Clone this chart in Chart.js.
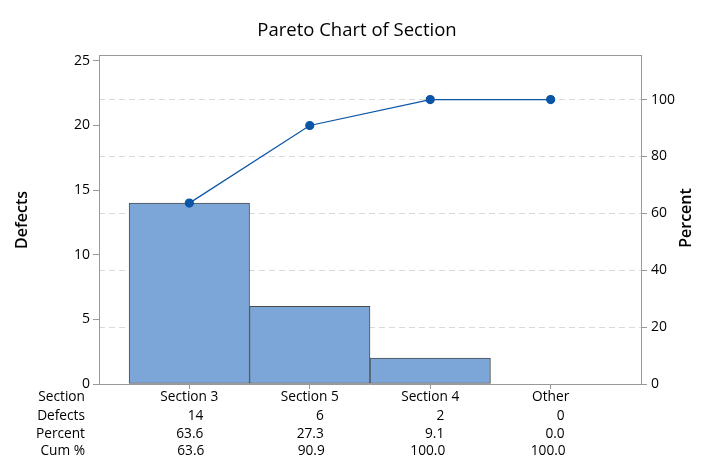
<!DOCTYPE html>
<html>
<head>
<meta charset="utf-8">
<script src="https://cdn.jsdelivr.net/npm/chart.js@4"></script>
<style>
  html, body { margin: 0; padding: 0; background: #fff; }
  #wrap { width: 711px; height: 473px; }
</style>
</head>
<body>
<div id="wrap"><canvas id="myChart" width="711" height="473"></canvas></div>
<script>
// chart values
var sections = ["Section 3", "Section 5", "Section 4", "Other"];
var defects = [14, 6, 2, 0];
var percent = ["63.6", "27.3", "9.1", "0.0"];
var cumPct = [63.6, 90.9, 100.0, 100.0];
var cumLabels = ["63.6", "90.9", "100.0", "100.0"];
var rowNames = ["Section", "Defects", "Percent", "Cum %"];
var leftTicks = [0, 5, 10, 15, 20, 25];
var rightTicks = [0, 20, 40, 60, 80, 100];

var total = defects.reduce((a, b) => a + b, 0);
var leftMax = 25.45;
var rightMax = leftMax * 100 / total;
var FONT = "'Open Sans', 'Noto Sans', sans-serif";

var barPoints = defects.map((d, i) => ({ x: i, y: d }));
var linePoints = cumPct.map((c, i) => ({ x: i, y: c }));

// title, axis titles, frame and the table under the chart
var paretoExtras = {
  id: "paretoExtras",
  afterDraw(chart) {
    var ctx = chart.ctx;
    var area = chart.chartArea;
    var xs = chart.scales.x;
    ctx.save();
    // top frame line
    ctx.strokeStyle = "#999999";
    ctx.lineWidth = 1;
    ctx.beginPath();
    ctx.moveTo(area.left, area.top + 0.5);
    ctx.lineTo(area.right, area.top + 0.5);
    ctx.stroke();

    ctx.fillStyle = "#000";
    ctx.textBaseline = "middle";
    ctx.textAlign = "center";
    ctx.font = "18.5px " + FONT;
    ctx.fillText("Pareto Chart of Section", 357, 31);

    ctx.font = "600 16px " + FONT;
    ctx.save();
    ctx.translate(22, 220);
    ctx.rotate(-Math.PI / 2);
    ctx.fillText("Defects", 0, 0);
    ctx.restore();
    ctx.save();
    ctx.translate(686, 218);
    ctx.rotate(-Math.PI / 2);
    ctx.fillText("Percent", 0, 0);
    ctx.restore();

    // table
    ctx.font = "13.7px " + FONT;
    var rowY = [397, 416, 434, 451];
    ctx.textAlign = "right";
    rowNames.forEach((n, r) => ctx.fillText(n, 85, rowY[r]));
    sections.forEach((s, i) => {
      var cx = xs.getPixelForValue(i);
      ctx.textAlign = "center";
      ctx.fillText(s, cx, rowY[0]);
      ctx.textAlign = "right";
      ctx.fillText(String(defects[i]), cx + 14, rowY[1]);
      ctx.fillText(percent[i], cx + 14, rowY[2]);
      ctx.fillText(cumLabels[i], cx + 15, rowY[3]);
    });
    ctx.restore();
  }
};

var ctx = document.getElementById("myChart").getContext("2d");
var myChart = new Chart(ctx, {
  type: "bar",
  data: {
    datasets: [
      {
        type: "line",
        label: "Cum %",
        data: linePoints,
        yAxisID: "yR",
        borderColor: "#0a55a5",
        backgroundColor: "#0a55a5",
        borderWidth: 1.2,
        pointRadius: 4,
        pointHoverRadius: 4,
        tension: 0,
        order: 0,
      },
      {
        label: "Defects",
        data: barPoints,
        yAxisID: "yL",
        backgroundColor: "#7ca6d8",
        borderColor: "#4d4d4d",
        borderWidth: 1,
        borderSkipped: false,
        barPercentage: 1,
        categoryPercentage: 1,
        order: 1,
      },
    ],
  },
  options: {
    responsive: false,
    animation: false,
    layout: { padding: { top: 55, left: 0, right: 0, bottom: 0 } },
    plugins: {
      legend: { display: false },
      tooltip: { enabled: false },
      title: { display: false },
    },
    scales: {
      x: {
        type: "linear",
        offset: false,
        min: -0.75,
        max: 3.75,
        afterBuildTicks: (s) => { s.ticks = sections.map((_, i) => ({ value: i })); },
        afterFit: (s) => { s.height = 89; },
        ticks: { display: false },
        grid: { offset: false, drawOnChartArea: false, drawTicks: true, tickLength: 5, tickColor: "#999999" },
        border: { color: "#999999" },
      },
      yL: {
        position: "left",
        min: 0,
        max: leftMax,
        afterBuildTicks: (s) => { s.ticks = leftTicks.map((v) => ({ value: v })); },
        afterFit: (s) => { s.width = 99; },
        ticks: { color: "#000", font: { family: FONT, size: 14 }, padding: 3 },
        grid: { drawOnChartArea: false, tickLength: 6, tickColor: "#999999" },
        border: { color: "#999999" },
      },
      yR: {
        position: "right",
        min: 0,
        max: rightMax,
        afterBuildTicks: (s) => { s.ticks = rightTicks.map((v) => ({ value: v })); },
        afterFit: (s) => { s.width = 70; },
        ticks: { color: "#000", font: { family: FONT, size: 14 }, padding: 4 },
        grid: {
          drawOnChartArea: true,
          color: (c) => (c.tick && c.tick.value === 0 ? "rgba(0,0,0,0)" : "#d9d9d9"),
          tickLength: 6,
          tickColor: "#999999",
          tickBorderDash: [],
        },
        border: { color: "#999999", dash: [6, 4] },
      },
    },
  },
  plugins: [paretoExtras],
});
</script>
</body>
</html>
